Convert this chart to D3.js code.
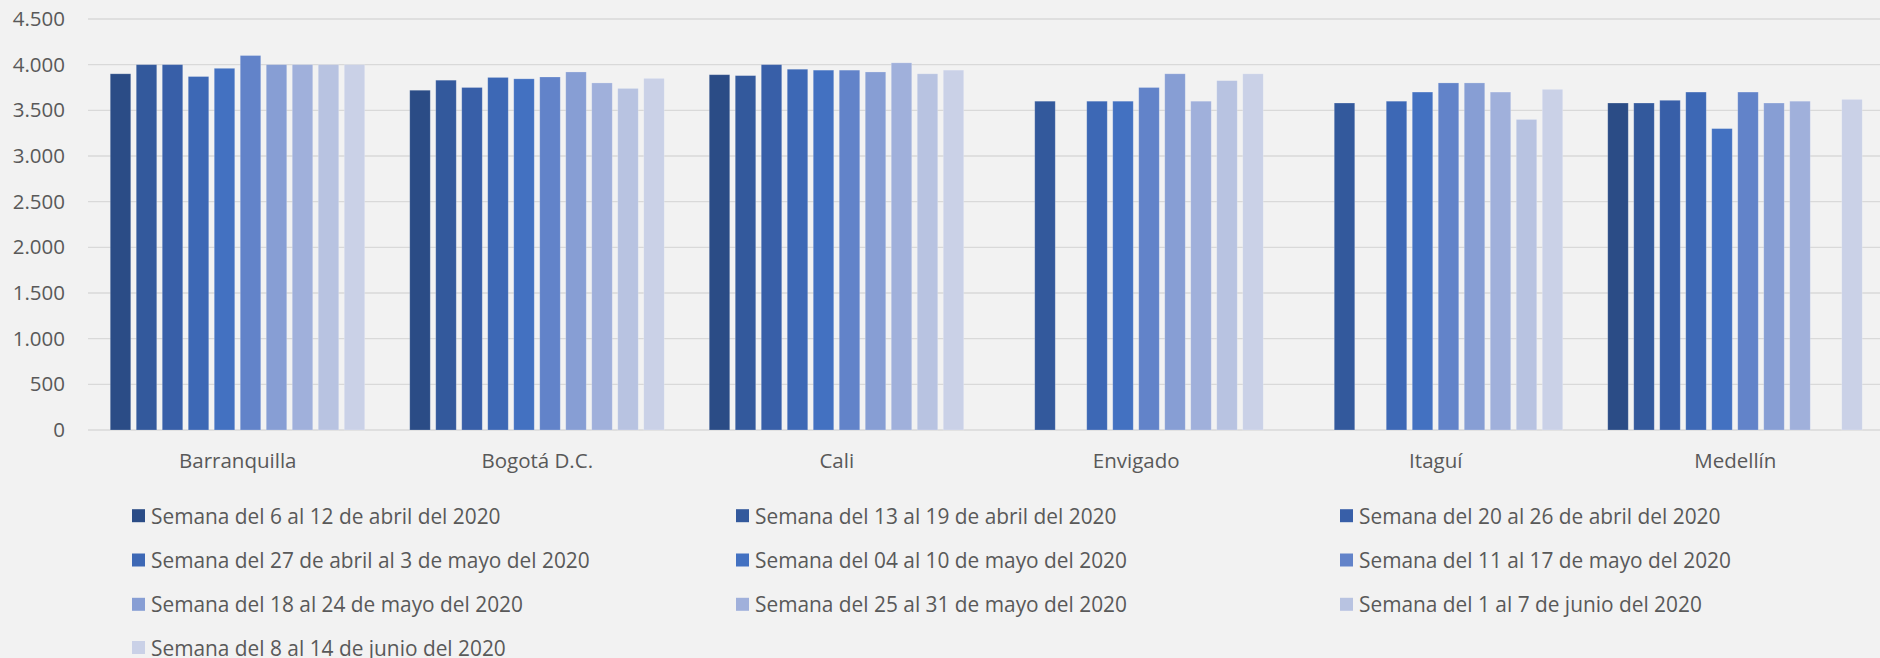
<!DOCTYPE html>
<html>
<head>
<meta charset="utf-8">
<script src="https://cdn.jsdelivr.net/npm/d3@7"></script>
<style>
  html, body { margin: 0; padding: 0; background: #F2F2F2; }
  svg { display: block; }
</style>
</head>
<body>
<svg id="chart" width="1880" height="658"></svg>
<script>
// ---- Data ----
const categories = ["Barranquilla", "Bogotá D.C.", "Cali", "Envigado", "Itaguí", "Medellín"];
const seriesNames = [
  "Semana del 6 al 12 de abril del 2020",
  "Semana del 13 al 19 de abril del 2020",
  "Semana del 20 al 26 de abril del 2020",
  "Semana del 27 de abril al 3 de mayo del 2020",
  "Semana del 04 al 10 de mayo del 2020",
  "Semana del 11 al 17 de mayo del 2020",
  "Semana del 18 al 24 de mayo del 2020",
  "Semana del 25 al 31 de mayo del 2020",
  "Semana del 1 al 7 de junio del 2020",
  "Semana del 8 al 14 de junio del 2020"
];
// values per series, in category order
const s1  = [3900, 3720, 3890, null, null, 3580];
const s2  = [4000, 3830, 3880, 3600, 3580, 3580];
const s3  = [4000, 3750, 4000, null, null, 3610];
const s4  = [3870, 3860, 3950, 3600, 3600, 3700];
const s5  = [3960, 3845, 3940, 3600, 3700, 3300];
const s6  = [4100, 3865, 3940, 3750, 3800, 3700];
const s7  = [4000, 3920, 3920, 3900, 3800, 3580];
const s8  = [4000, 3800, 4020, 3600, 3700, 3600];
const s9  = [4000, 3740, 3900, 3825, 3400, null];
const s10 = [4000, 3850, 3940, 3900, 3730, 3620];
const seriesValues = [s1, s2, s3, s4, s5, s6, s7, s8, s9, s10];
const yTicks = [0, 500, 1000, 1500, 2000, 2500, 3000, 3500, 4000, 4500];
const colors = ["#2B4C86", "#33599C", "#385FA8", "#3D68B5", "#4371C1",
                "#6283C9", "#879ED4", "#A0B0DB", "#B8C3E1", "#CAD1E7"];

// ---- Layout ----
const svg = d3.select("#chart");
const plotLeft = 88, bandStep = 299.5;
const x0 = d3.scaleBand().domain(categories)
  .range([plotLeft, plotLeft + bandStep * categories.length])
  .paddingInner(0).paddingOuter(0);
const x1 = d3.scaleBand().domain(d3.range(seriesNames.length))
  .range([19.5, 279.5]).paddingInner(0.2115).paddingOuter(0.10575);
const y = d3.scaleLinear().domain([0, 4500]).range([430, 19]);

const fmt = v => d3.format(",")(v).replace(/,/g, ".");

// gridlines
svg.append("g").selectAll("line").data(yTicks).join("line")
  .attr("x1", plotLeft).attr("x2", 1880)
  .attr("y1", d => y(d)).attr("y2", d => y(d))
  .attr("stroke", "#D9D9D9").attr("stroke-width", 1.4);

// y axis labels
const yAxis = d3.axisLeft(y).tickValues(yTicks).tickFormat(fmt).tickSize(0).tickPadding(0);
const ya = svg.append("g").attr("transform", "translate(65,0)").call(yAxis);
ya.select(".domain").remove();
ya.selectAll("text")
  .attr("font-family", "'Open Sans', 'Noto Sans', sans-serif")
  .attr("font-size", 20.5).attr("fill", "#595959");

// bars
const groups = svg.append("g").selectAll("g").data(categories).join("g")
  .attr("transform", d => `translate(${x0(d)},0)`);
groups.selectAll("rect")
  .data((c, ci) => seriesValues.map((vals, si) => ({ si, v: vals[ci] })).filter(d => d.v != null))
  .join("rect")
  .attr("x", d => x1(d.si))
  .attr("width", x1.bandwidth())
  .attr("y", d => y(d.v))
  .attr("height", d => y(0) - y(d.v))
  .attr("fill", d => colors[d.si])
  .attr("stroke", "#ffffff").attr("stroke-opacity", 0.25).attr("stroke-width", 0.8);

// x axis labels
const xAxis = d3.axisBottom(x0).tickSize(0).tickPadding(0);
const xa = svg.append("g").attr("transform", "translate(0,453.5)").call(xAxis);
xa.select(".domain").remove();
xa.selectAll("text")
  .attr("font-family", "'Open Sans', 'Noto Sans', sans-serif")
  .attr("font-size", 20.5).attr("fill", "#595959");

// legend
const legCols = [132, 736, 1340];
const legRows = [515.7, 560, 604.3, 647.5];
const leg = svg.append("g").selectAll("g").data(seriesNames).join("g")
  .attr("transform", (d, i) => `translate(${legCols[i % 3]},${legRows[Math.floor(i / 3)]})`);
leg.append("rect").attr("x", 0).attr("y", -6.5).attr("width", 13).attr("height", 13)
  .attr("fill", (d, i) => colors[i]);
const legText = leg.append("text").attr("x", 19).attr("y", 0)
  .attr("dominant-baseline", "central")
  .attr("font-family", "'Open Sans', 'Noto Sans', sans-serif")
  .attr("font-size", 21).attr("fill", "#595959")
  .text(d => d);
// condense to match the narrow legend font
const ref = legText.nodes()[0].getComputedTextLength();
const ratio = 349.5 / ref;
legText.each(function () {
  const w = this.getComputedTextLength();
  d3.select(this).attr("textLength", w * ratio).attr("lengthAdjust", "spacingAndGlyphs");
});
</script>
</body>
</html>
